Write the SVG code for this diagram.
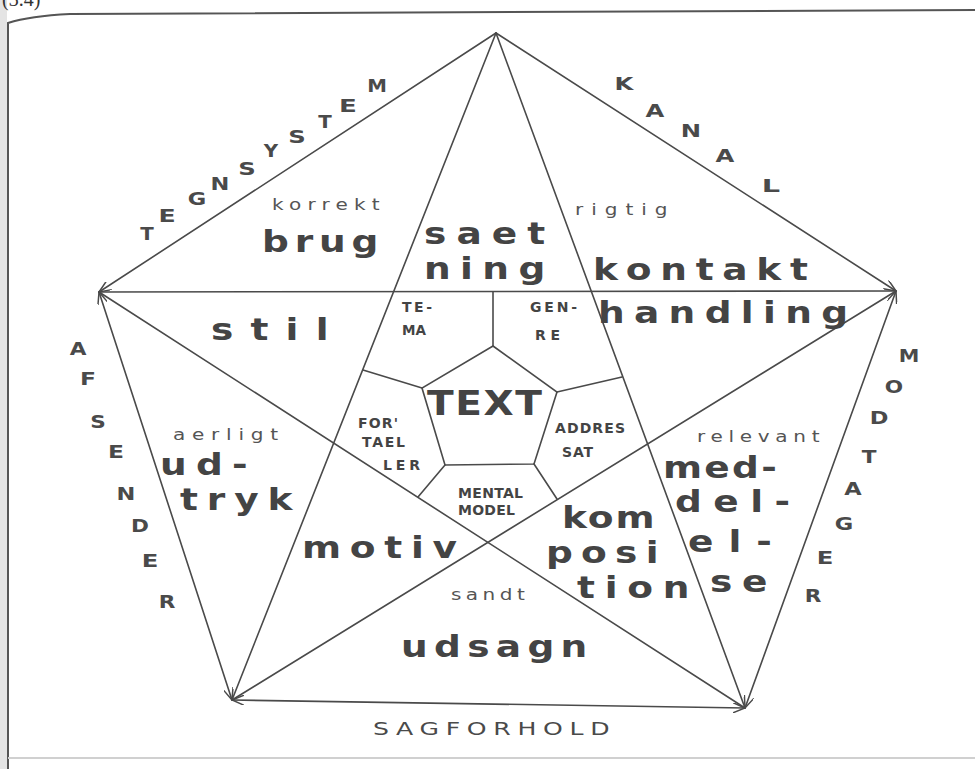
<svg xmlns="http://www.w3.org/2000/svg" width="975" height="769" viewBox="0 0 975 769">
<style>
  .ln { stroke:#4a4a4a; stroke-width:1.6; fill:none; stroke-linecap:round; }
  .frame { stroke:#555; stroke-width:2; fill:none; }
  .big { font-family:"DejaVu Sans","Liberation Sans",sans-serif; font-weight:bold; font-size:30px; fill:#444; }
  .small { font-family:"DejaVu Sans","Liberation Sans",sans-serif; font-size:16px; fill:#555; }
  .cap { font-family:"DejaVu Sans","Liberation Sans",sans-serif; font-weight:bold; font-size:18px; fill:#4a4a4a; text-anchor:middle; }
  .inner { font-family:"DejaVu Sans","Liberation Sans",sans-serif; font-weight:bold; font-size:14px; fill:#444; }
</style>
<defs>
  <marker id="barb" viewBox="0 0 12 10" refX="12" refY="5" markerWidth="12" markerHeight="10" markerUnits="userSpaceOnUse" orient="auto-start-reverse">
    <path d="M0,0 L12,5 L0,10" fill="none" stroke="#4a4a4a" stroke-width="1.5"/>
  </marker>
</defs>
<rect x="0" y="0" width="975" height="769" fill="#ffffff"/>
<rect x="0" y="0" width="7" height="769" fill="#e4e4e4"/>
<text x="2" y="6" font-family="Liberation Serif, serif" font-size="20" fill="#333">(3.4)</text>
<g id="frame">
  <path class="frame" d="M8,769 L8,23 Q30,16 70,14 L975,10"/>
  <line x1="8" y1="758" x2="975" y2="758" stroke="#d0d0d0" stroke-width="2"/>
</g>
<g id="connectors">
  <line class="ln" x1="496" y1="33" x2="99" y2="292" marker-end="url(#barb)"/>
  <line class="ln" x1="496" y1="33" x2="896" y2="291" marker-end="url(#barb)"/>
  <line class="ln" x1="99" y1="292" x2="232" y2="700" marker-start="url(#barb)" marker-end="url(#barb)"/>
  <line class="ln" x1="896" y1="291" x2="745" y2="708" marker-start="url(#barb)" marker-end="url(#barb)"/>
  <line class="ln" x1="232" y1="700" x2="745" y2="708" marker-start="url(#barb)" marker-end="url(#barb)"/>
  <line class="ln" x1="496" y1="33" x2="232" y2="700"/>
  <line class="ln" x1="496" y1="33" x2="745" y2="708"/>
  <line class="ln" x1="99" y1="292" x2="896" y2="291"/>
  <line class="ln" x1="99" y1="292" x2="745" y2="708"/>
  <line class="ln" x1="896" y1="291" x2="232" y2="700"/>
  <polygon class="ln" points="493,346 557,392 534,464 445,465 422,388"/>
  <line class="ln" x1="493" y1="346" x2="493" y2="292"/>
  <line class="ln" x1="422" y1="388" x2="363" y2="370"/>
  <line class="ln" x1="557" y1="392" x2="622" y2="377"/>
  <line class="ln" x1="445" y1="465" x2="418" y2="497"/>
  <line class="ln" x1="534" y1="464" x2="557" y2="499"/>
</g>
<g id="tegnsystem">
  <text class="cap" transform="translate(147,240) scale(1.1,1)">T</text>
  <text class="cap" transform="translate(167,222) scale(1.4,1)">E</text>
  <text class="cap" transform="translate(197,205) scale(1.25,1)">G</text>
  <text class="cap" transform="translate(220,190) scale(1.25,1)">N</text>
  <text class="cap" transform="translate(247,175) scale(1.35,1)">S</text>
  <text class="cap" transform="translate(271,157) scale(1.1,1)">Y</text>
  <text class="cap" transform="translate(297,143) scale(1.35,1)">S</text>
  <text class="cap" transform="translate(325,128) scale(1.1,1)">T</text>
  <text class="cap" transform="translate(348,112) scale(1.45,1)">E</text>
  <text class="cap" transform="translate(377,92) scale(1.1,1)">M</text>
</g>
<g id="kanal">
  <text class="cap" transform="translate(624,90) scale(1.35,1)">K</text>
  <text class="cap" transform="translate(655,117) scale(1.35,1)">A</text>
  <text class="cap" transform="translate(691,137) scale(1.35,1)">N</text>
  <text class="cap" transform="translate(725,162) scale(1.35,1)">A</text>
  <text class="cap" transform="translate(771,192) scale(1.6,1)">L</text>
</g>
<g id="afsender">
  <text class="cap" transform="translate(78,355) scale(1.2,1)">A</text>
  <text class="cap" transform="translate(88,385) scale(1.3,1)">F</text>
  <text class="cap" transform="translate(98,428) scale(1.2,1)">S</text>
  <text class="cap" transform="translate(116,458) scale(1.3,1)">E</text>
  <text class="cap" transform="translate(126,500) scale(1.25,1)">N</text>
  <text class="cap" transform="translate(140,532) scale(1.2,1)">D</text>
  <text class="cap" transform="translate(150,567) scale(1.35,1)">E</text>
  <text class="cap" transform="translate(167,608) scale(1.2,1)">R</text>
</g>
<g id="modtager">
  <text class="cap" transform="translate(909,362) scale(1.15,1)">M</text>
  <text class="cap" transform="translate(894,393) scale(1.2,1)">O</text>
  <text class="cap" transform="translate(879,424) scale(1.25,1)">D</text>
  <text class="cap" transform="translate(869,463) scale(1.2,1)">T</text>
  <text class="cap" transform="translate(853,495) scale(1.25,1)">A</text>
  <text class="cap" transform="translate(844,530) scale(1.25,1)">G</text>
  <text class="cap" transform="translate(825,564) scale(1.35,1)">E</text>
  <text class="cap" transform="translate(813,602) scale(1.2,1)">R</text>
</g>
<g id="sagforhold">
  <text transform="translate(373,735) scale(1.4,1)" font-family="DejaVu Sans, sans-serif" font-size="18" fill="#4a4a4a" textLength="169" lengthAdjust="spacing">SAGFORHOLD</text>
</g>
<g id="brug">
  <text class="small" transform="translate(272,210) scale(1.25,1)" textLength="86" lengthAdjust="spacing">korrekt</text>
  <text class="big" transform="translate(262,252) scale(1.25,1)" textLength="93" lengthAdjust="spacing" font-size="31">brug</text>
</g>
<g id="saetning">
  <text class="big" transform="translate(424,244) scale(1.25,1)" textLength="97" lengthAdjust="spacing">saet</text>
  <text class="big" transform="translate(424,279) scale(1.25,1)" textLength="97" lengthAdjust="spacing">ning</text>
</g>
<g id="kontakt">
  <text class="small" transform="translate(575,215) scale(1.25,1)" textLength="74" lengthAdjust="spacing">rigtig</text>
  <text class="big" transform="translate(593,280) scale(1.25,1)" textLength="172" lengthAdjust="spacing">kontakt</text>
</g>
<g id="handling">
  <text class="big" transform="translate(598,323) scale(1.25,1)" textLength="200" lengthAdjust="spacing" font-size="28">handling</text>
</g>
<g id="stil">
  <text class="big" transform="translate(211,340) scale(1.25,1)" textLength="94" lengthAdjust="spacing">stil</text>
</g>
<g id="udtryk">
  <text class="small" transform="translate(173,440) scale(1.25,1)" textLength="84" lengthAdjust="spacing">aerligt</text>
  <text class="big" transform="translate(160,475) scale(1.25,1)" textLength="70" lengthAdjust="spacing">ud-</text>
  <text class="big" transform="translate(180,510) scale(1.25,1)" textLength="90" lengthAdjust="spacing">tryk</text>
</g>
<g id="motiv">
  <text class="big" transform="translate(302,558) scale(1.25,1)" textLength="124" lengthAdjust="spacing">motiv</text>
</g>
<g id="meddelelse">
  <text class="small" transform="translate(697,442) scale(1.25,1)" textLength="98" lengthAdjust="spacing">relevant</text>
  <text class="big" transform="translate(663,478) scale(1.25,1)" textLength="91" lengthAdjust="spacing">med-</text>
  <text class="big" transform="translate(675,512) scale(1.25,1)" textLength="92" lengthAdjust="spacing">del-</text>
  <text class="big" transform="translate(688,552) scale(1.25,1)" textLength="67" lengthAdjust="spacing">el-</text>
  <text class="big" transform="translate(710,592) scale(1.25,1)" textLength="46" lengthAdjust="spacing">se</text>
</g>
<g id="komposition">
  <text class="big" transform="translate(562,528) scale(1.25,1)" textLength="74" lengthAdjust="spacing">kom</text>
  <text class="big" transform="translate(546,563) scale(1.25,1)" textLength="90" lengthAdjust="spacing">posi</text>
  <text class="big" transform="translate(577,598) scale(1.25,1)" textLength="90" lengthAdjust="spacing">tion</text>
</g>
<g id="udsagn">
  <text class="small" transform="translate(451,600) scale(1.25,1)" textLength="59" lengthAdjust="spacing">sandt</text>
  <text class="big" transform="translate(401,657) scale(1.25,1)" textLength="149" lengthAdjust="spacing" font-size="28">udsagn</text>
</g>
<g id="text-center">
  <text transform="translate(427,415) scale(1.15,1)" font-family="DejaVu Sans, sans-serif" font-weight="bold" font-size="34" fill="#444" textLength="100" lengthAdjust="spacing">TEXT</text>
</g>
<g id="tema">
  <text class="inner" x="402" y="312" textLength="30" lengthAdjust="spacing">TE-</text>
  <text class="inner" x="402" y="335" textLength="24" lengthAdjust="spacingAndGlyphs">MA</text>
</g>
<g id="genre">
  <text class="inner" x="530" y="312" textLength="47" lengthAdjust="spacing">GEN-</text>
  <text class="inner" x="535" y="340" textLength="25" lengthAdjust="spacing">RE</text>
</g>
<g id="fortaeller">
  <text class="inner" x="358" y="428" textLength="40" lengthAdjust="spacing">FOR'</text>
  <text class="inner" x="362" y="447" textLength="43" lengthAdjust="spacing">TAEL</text>
  <text class="inner" x="383" y="470" textLength="37" lengthAdjust="spacing">LER</text>
</g>
<g id="adressat">
  <text class="inner" x="555" y="433" textLength="70" lengthAdjust="spacing">ADDRES</text>
  <text class="inner" x="562" y="457" textLength="31" lengthAdjust="spacing">SAT</text>
</g>
<g id="mentalmodel">
  <text class="inner" x="458" y="498" textLength="65" lengthAdjust="spacing">MENTAL</text>
  <text class="inner" x="458" y="515" textLength="57" lengthAdjust="spacing">MODEL</text>
</g>
</svg>
